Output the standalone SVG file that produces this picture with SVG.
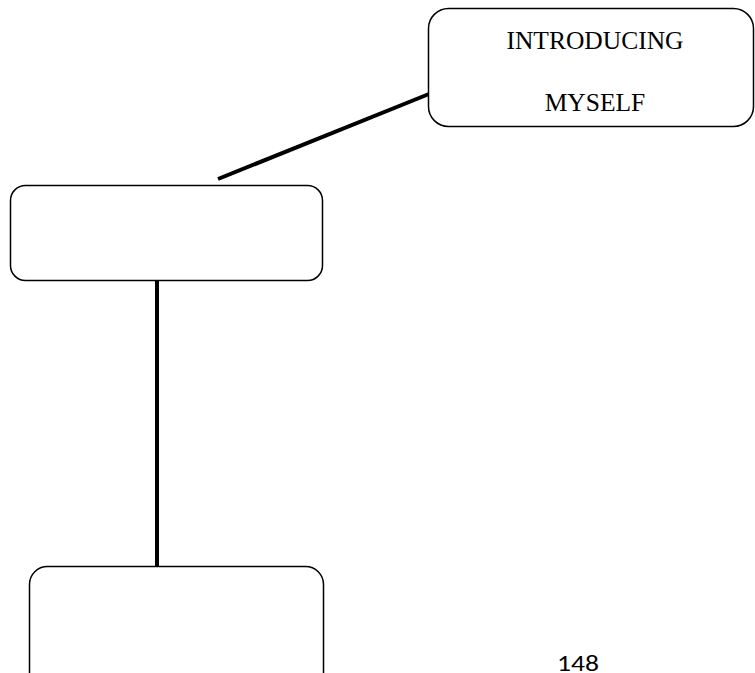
<svg xmlns="http://www.w3.org/2000/svg" width="755" height="673" viewBox="0 0 755 673">
  <style>
    .box { fill: #ffffff; stroke: #000000; stroke-width: 1.5; }
    .link { stroke: #000000; stroke-width: 4; fill: none; }
    .label { font-family: "Liberation Serif", "Times New Roman", serif; font-size: 25.5px; fill: #000000; text-anchor: middle; }
    .page { font-family: "Carlito", "Liberation Sans", sans-serif; font-size: 23px; fill: #000000; }
  </style>
  <rect width="755" height="673" fill="#ffffff"/>
  <g id="connectors">
    <line class="link" x1="218" y1="179" x2="429" y2="94"/>
    <line class="link" x1="157" y1="275" x2="157" y2="566"/>
  </g>
  <g id="node-introducing">
    <rect class="box" x="428.5" y="8.5" width="325" height="118" rx="20"/>
    <text class="label" x="595" y="49">INTRODUCING</text>
    <text class="label" x="595" y="111">MYSELF</text>
  </g>
  <g id="node-middle">
    <rect class="box" x="10.5" y="185.5" width="312" height="95" rx="15"/>
  </g>
  <g id="node-bottom">
    <rect class="box" x="29.5" y="566.5" width="294" height="130" rx="18"/>
  </g>
  <!-- page number -->
  <text class="page" x="557" y="671" textLength="42" lengthAdjust="spacingAndGlyphs">148</text>
</svg>
